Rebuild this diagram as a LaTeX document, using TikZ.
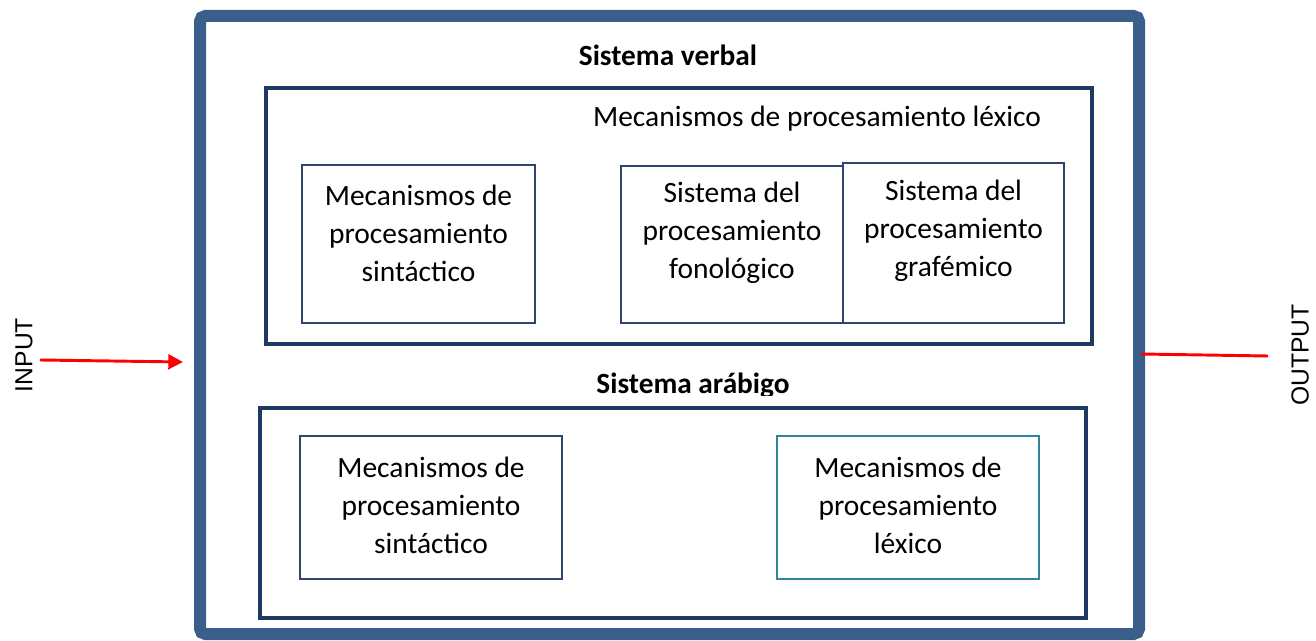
\documentclass[tikz,border=0pt]{standalone}
\usepackage{fontspec}
\setmainfont{Carlito}
\newfontfamily\arialf{Liberation Sans}
\usetikzlibrary{arrows.meta}
\definecolor{outerblue}{RGB}{58,95,139}
\definecolor{navy}{RGB}{31,56,100}
\definecolor{boxblue}{RGB}{47,69,107}
\definecolor{tealb}{RGB}{49,132,155}
\tikzset{
  outerframe/.style={draw=outerblue, line width=9pt, rounded corners=4pt, minimum width=939*0.75pt, minimum height=618*0.75pt, inner sep=0pt},
  frame/.style={draw=navy, line width=2.3pt, inner sep=0pt},
  boxx/.style={draw=boxblue, line width=1.1pt, inner sep=0pt},
  lbl/.style={align=center, font=\fontsize{22.1}{28.5}\selectfont, inner sep=0pt},
  ttl/.style={font=\fontsize{22}{26}\selectfont\bfseries, inner sep=0pt, anchor=base},
  side/.style={font=\arialf\fontsize{18.5}{22}\selectfont, rotate=90, inner sep=0pt},
  redline/.style={draw=red, line width=2.2pt},
}
\begin{document}
\begin{tikzpicture}[x=0.75pt,y=-0.75pt]
\useasboundingbox (0,0) rectangle (1316,641);
% outer
\node[outerframe] (outer) at (669.5,325) {};
% verbal
\node[ttl] (tverbal) at (668,66) {Sistema verbal};
\node[frame, minimum width=826*0.75pt, minimum height=256*0.75pt] (verbal) at (679,216) {};
\node[lbl, anchor=center] (tlex) at (817,119) {Mecanismos de procesamiento léxico};
\node[boxx, minimum width=233*0.75pt, minimum height=158*0.75pt] (syn1) at (418.5,244) {};
\node[lbl] (syn1t) at (418.5,233) {Mecanismos de\\procesamiento\\sintáctico};
\node[boxx, minimum width=222*0.75pt, minimum height=157*0.75pt] (fon) at (732,244.5) {};
\node[lbl] (font) at (732,233) {Sistema del\\procesamiento\\fonológico};
\node[boxx, minimum width=221*0.75pt, minimum height=160*0.75pt] (graf) at (953.5,243) {};
\node[lbl] (graft) at (953.5,231) {Sistema del\\procesamiento\\grafémico};
% arabigo
\begin{scope}
\clip (400,340) rectangle (900,395);
\node[ttl] (tarab) at (693,393) {Sistema arábigo};
\end{scope}
\node[frame, minimum width=826*0.75pt, minimum height=210*0.75pt] (arab) at (673,513) {};
\node[boxx, minimum width=262*0.75pt, minimum height=143*0.75pt] (syn2) at (431,507.5) {};
\node[lbl] (syn2t) at (431,505) {Mecanismos de\\procesamiento\\sintáctico};
\node[boxx, draw=tealb, minimum width=262*0.75pt, minimum height=143*0.75pt] (lex2) at (908,507.5) {};
\node[lbl] (lex2t) at (908,505) {Mecanismos de\\procesamiento\\léxico};
% input / output
\node[side] (inp) at (24,355) {INPUT};
\node[side] (outp) at (1300,355) {OUTPUT};
\coordinate (inA) at (40,360);
\coordinate (inB) at (183,362);
\coordinate (oA) at (1141,354);
\coordinate (oB) at (1268,356);
\draw[redline, -{Triangle[length=11pt,width=11pt]}] (inA) -- (inB);
\draw[redline] (oA) -- (oB);
\end{tikzpicture}
\end{document}
